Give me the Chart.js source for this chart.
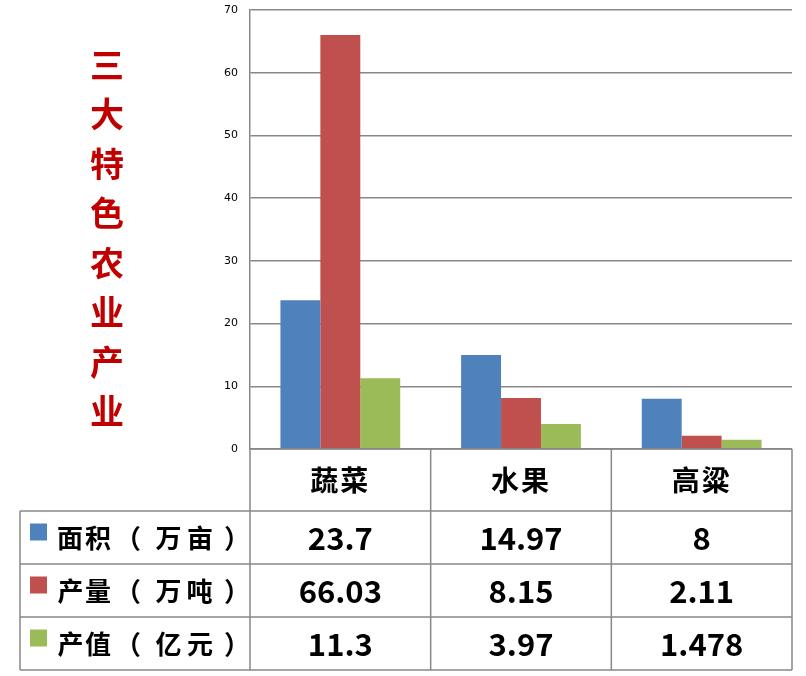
<!DOCTYPE html>
<html>
<head>
<meta charset="utf-8">
<script src="https://cdn.jsdelivr.net/npm/chart.js@4/dist/chart.umd.min.js"></script>
<style>
  html, body { margin: 0; padding: 0; background: #fff; }
  #wrap { width: 806px; height: 676px; }
</style>
</head>
<body>
<div id="wrap"><canvas id="chart" width="806" height="676"></canvas></div>
<script>
// data
const categories = ['蔬菜', '水果', '高粱'];
const seriesNames = ['面积（万亩）', '产量（万吨）', '产值（亿元）'];
const areaValues = [23.7, 14.97, 8];
const outputValues = [66.03, 8.15, 2.11];
const valueValues = [11.3, 3.97, 1.478];
const yTicks = [0, 10, 20, 30, 40, 50, 60, 70];
const titleText = '三大特色农业产业';

const colors = ['#4F81BD', '#C0504D', '#9BBB59'];
const lineColor = '#888888';
const cjk = '"Noto Sans CJK SC", "Noto Sans", sans-serif';

// ink-centred glyph so full-width brackets sit like the original
function drawCentered(ctx, ch, cx, cy) {
    const m = ctx.measureText(ch);
    const inkMid = (m.actualBoundingBoxRight - m.actualBoundingBoxLeft) / 2;
    ctx.fillText(ch, cx - inkMid, cy);
}

// draws the vertical title and the data table under the plot
const tablePlugin = {
    id: 'dataTable',
    afterDraw(chart) {
        const ctx = chart.ctx;
        const area = chart.chartArea;
        const x = chart.scales.x;
        const colW = (area.right - area.left) / categories.length;
        const headTop = area.bottom;
        const rowH = 53;
        const headBottom = headTop + 62;
        const tableBottom = headBottom + rowH * seriesNames.length;
        const tableLeft = 20;
        const labelX = [70, 98, 136, 168, 200, 229];

        ctx.save();

        // title
        ctx.fillStyle = '#C00000';
        ctx.font = 'bold 34px ' + cjk;
        ctx.textAlign = 'center';
        ctx.textBaseline = 'middle';
        Array.from(titleText).forEach((ch, i) => {
            ctx.fillText(ch, 107, 65 + i * 49.5);
        });

        // grid lines of the table
        ctx.strokeStyle = lineColor;
        ctx.lineWidth = 1.5;
        ctx.beginPath();
        ctx.moveTo(area.left, headTop);
        ctx.lineTo(area.right, headTop);
        for (let r = 0; r <= seriesNames.length; r++) {
            const y = headBottom + r * rowH;
            ctx.moveTo(tableLeft, y);
            ctx.lineTo(area.right, y);
        }
        ctx.moveTo(tableLeft, headBottom);
        ctx.lineTo(tableLeft, tableBottom);
        for (let c = 0; c <= categories.length; c++) {
            const cx = area.left + c * colW;
            ctx.moveTo(cx, headTop);
            ctx.lineTo(cx, tableBottom);
        }
        ctx.stroke();

        // category header
        ctx.fillStyle = '#000';
        ctx.font = 'bold 28px ' + cjk;
        ctx.letterSpacing = '2px';
        categories.forEach((cat, i) => {
            ctx.fillText(cat, x.getPixelForValue(i), (headTop + headBottom) / 2);
        });
        ctx.letterSpacing = '0px';

        // rows
        chart.data.datasets.forEach((ds, r) => {
            const cy = headBottom + r * rowH + rowH / 2;
            ctx.fillStyle = ds.backgroundColor;
            ctx.fillRect(30, cy - 14, 17, 17);

            ctx.fillStyle = '#000';
            ctx.textAlign = 'left';
            ctx.font = 'bold 26px ' + cjk;
            Array.from(ds.label).forEach((ch, k) => {
                drawCentered(ctx, ch, labelX[k], cy + 1);
            });

            ctx.textAlign = 'center';
            ctx.font = 'bold 31px ' + cjk;
            ds.data.forEach((v, i) => {
                ctx.fillText(String(v), x.getPixelForValue(i), cy + 1);
            });
        });

        ctx.restore();
    }
};

new Chart(document.getElementById('chart'), {
    type: 'bar',
    data: {
        labels: categories,
        datasets: [
            { label: seriesNames[0], data: areaValues, backgroundColor: colors[0] },
            { label: seriesNames[1], data: outputValues, backgroundColor: colors[1] },
            { label: seriesNames[2], data: valueValues, backgroundColor: colors[2] }
        ]
    },
    options: {
        responsive: false,
        animation: false,
        devicePixelRatio: 1,
        layout: { autoPadding: false, padding: { left: 200, top: 10, right: 14, bottom: 227 } },
        datasets: {
            bar: { barPercentage: 1, categoryPercentage: 0.663 }
        },
        plugins: {
            legend: { display: false },
            tooltip: { enabled: false }
        },
        scales: {
            x: {
                display: false
            },
            y: {
                min: 0,
                max: 70,
                afterBuildTicks(scale) {
                    scale.ticks = yTicks.map(v => ({ value: v }));
                },
                afterFit(scale) {
                    scale.width = 50;
                    scale.paddingTop = 0;
                    scale.paddingBottom = 0;
                },
                ticks: {
                    color: '#000',
                    font: { family: '"DejaVu Sans", Verdana, sans-serif', size: 11 },
                    padding: 12
                },
                grid: { color: lineColor, lineWidth: 1.5, drawTicks: false },
                border: { color: lineColor, width: 1.5 }
            }
        }
    },
    plugins: [tablePlugin]
});
</script>
</body>
</html>
